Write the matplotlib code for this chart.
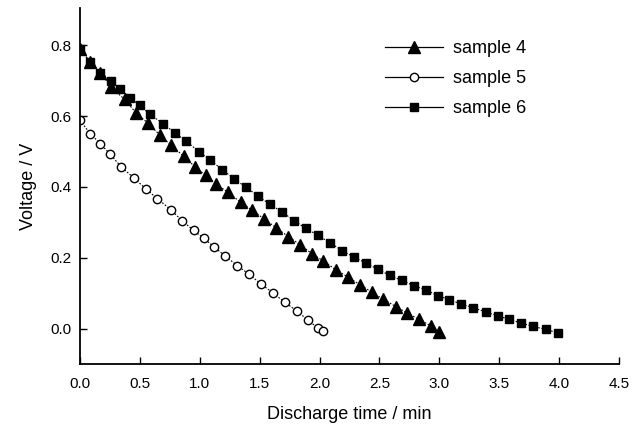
import matplotlib
matplotlib.use("Agg")
import matplotlib.pyplot as plt
from matplotlib.lines import Line2D

plt.rcParams['font.family'] = ['Liberation Sans', 'DejaVu Sans']

# sample 4 (filled triangles)
t4 = [0, 0.086, 0.17, 0.261, 0.373, 0.47, 0.568, 0.665, 0.762, 0.868, 0.962,
      1.049, 1.133, 1.235, 1.34, 1.438, 1.536, 1.636, 1.739, 1.836, 1.934,
      2.031, 2.137, 2.24, 2.337, 2.435, 2.532, 2.638, 2.732, 2.83, 2.933, 3.0]
v4 = [0.79, 0.752, 0.723, 0.681, 0.647, 0.608, 0.580, 0.547, 0.517, 0.486, 0.456,
      0.433, 0.409, 0.385, 0.357, 0.334, 0.310, 0.285, 0.260, 0.237, 0.212,
      0.191, 0.166, 0.145, 0.124, 0.103, 0.083, 0.062, 0.044, 0.026, 0.007, -0.010]

# sample 5 (open circles)
t5 = [0, 0.086, 0.17, 0.253, 0.345, 0.451, 0.548, 0.645, 0.757, 0.851, 0.949,
      1.032, 1.119, 1.211, 1.313, 1.413, 1.511, 1.614, 1.711, 1.814, 1.906,
      1.985, 2.03]
v5 = [0.588, 0.550, 0.522, 0.492, 0.456, 0.425, 0.395, 0.367, 0.336, 0.305, 0.277,
      0.255, 0.231, 0.205, 0.178, 0.153, 0.126, 0.100, 0.074, 0.049, 0.023,
      0.002, -0.008]

# sample 6 (filled squares)
t6 = [0, 0.086, 0.17, 0.256, 0.336, 0.415, 0.498, 0.582, 0.693, 0.79, 0.887,
      0.991, 1.088, 1.188, 1.285, 1.386, 1.488, 1.586, 1.689, 1.786, 1.886,
      1.989, 2.087, 2.19, 2.287, 2.387, 2.49, 2.588, 2.686, 2.788, 2.888,
      2.986, 3.083, 3.183, 3.283, 3.387, 3.487, 3.583, 3.681, 3.784, 3.887, 3.987]
v6 = [0.79, 0.752, 0.723, 0.70, 0.676, 0.652, 0.631, 0.605, 0.579, 0.553, 0.529,
      0.500, 0.475, 0.449, 0.423, 0.399, 0.374, 0.351, 0.329, 0.305, 0.283,
      0.263, 0.242, 0.220, 0.202, 0.185, 0.167, 0.150, 0.136, 0.121, 0.109,
      0.093, 0.082, 0.069, 0.059, 0.047, 0.036, 0.026, 0.016, 0.006, -0.002, -0.012]

labels = ["sample 4", "sample 5", "sample 6"]
xticks = [0.0, 0.5, 1.0, 1.5, 2.0, 2.5, 3.0, 3.5, 4.0, 4.5]
yticks = [0.0, 0.2, 0.4, 0.6, 0.8]

fig = plt.figure(figsize=(6.32, 4.25), dpi=100)
ax = fig.add_axes([0.1266, 0.1435, 0.8528, 0.8375])

ls = dict(color='black', linestyle=(0, (1.5, 1.5)), linewidth=0.8)
ax.plot(t4, v4, marker='^', markersize=8, markerfacecolor='black',
        markeredgecolor='black', **ls)
ax.plot(t5, v5, marker='o', markersize=6, markerfacecolor='white',
        markeredgecolor='black', markeredgewidth=1.0, **ls)
ax.plot(t6, v6, marker='s', markersize=6, markerfacecolor='black',
        markeredgecolor='black', **ls)

ax.set_xlim(0, 4.5)
ax.set_ylim(-0.1, 0.905)
ax.set_xticks(xticks)
ax.set_xticklabels([f"{v:.1f}" for v in xticks])
ax.set_yticks(yticks)
ax.set_yticklabels([f"{v:.1f}" for v in yticks])
ax.tick_params(direction='in', length=5, width=1, labelsize=11, pad=6)
ax.tick_params(axis='x', pad=9)
for s in ['top', 'right']:
    ax.spines[s].set_visible(False)
for s in ['left', 'bottom']:
    ax.spines[s].set_linewidth(1.3)

ax.set_xlabel("Discharge time / min", fontsize=13, labelpad=11)
ax.set_ylabel("Voltage / V", fontsize=13, labelpad=10)

handles = [
    Line2D([], [], color='black', lw=0.9, marker='^', markersize=8,
           markerfacecolor='black'),
    Line2D([], [], color='black', lw=0.9, marker='o', markersize=6,
           markerfacecolor='white'),
    Line2D([], [], color='black', lw=0.9, marker='s', markersize=6,
           markerfacecolor='black'),
]
ax.legend(handles, labels, loc='upper left', bbox_to_anchor=(0.566, 0.909),
          frameon=False, fontsize=13, handlelength=3.2, handletextpad=0.55,
          labelspacing=0.72, borderpad=0, borderaxespad=0)

fig.savefig("out.png", dpi=100)
